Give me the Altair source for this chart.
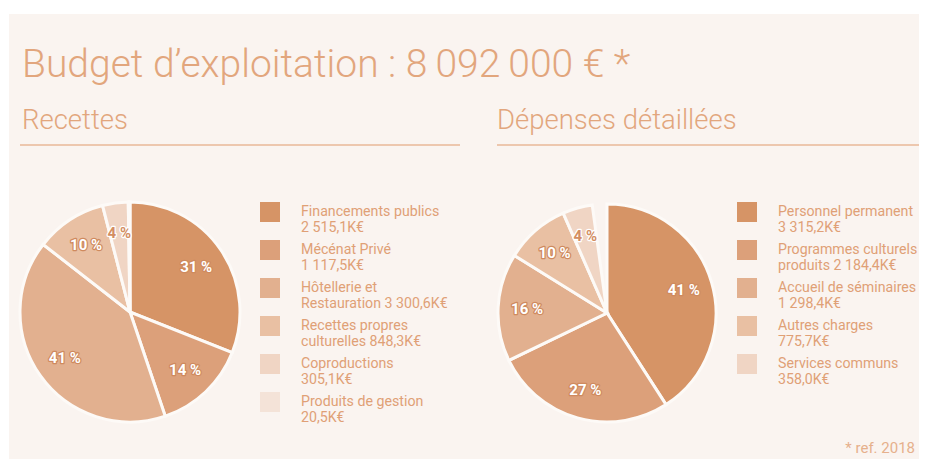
import altair as alt
import pandas as pd

TITLE = "Budget d’exploitation : 8\u2009092\u2009000 € *"
SECTIONS = ["Recettes", "Dépenses détaillées"]
FOOTNOTE = "* ref. 2018"

REC_CATS = ["Financements publics", "Mécénat Privé", "Hôtellerie et Restauration",
            "Recettes propres culturelles", "Coproductions", "Produits de gestion"]
REC_VALUES = [2515.1, 1117.5, 3300.6, 848.3, 305.1, 20.5]
REC_LEGEND = ["Financements publics|2 515,1K€", "Mécénat Privé|1 117,5K€",
              "Hôtellerie et|Restauration 3 300,6K€", "Recettes propres|culturelles 848,3K€",
              "Coproductions|305,1K€", "Produits de gestion|20,5K€"]
REC_PCT = ["31 %", "14 %", "41 %", "10 %", "4 %", ""]

DEP_CATS = ["Personnel permanent", "Programmes culturels produits", "Accueil de séminaires",
            "Autres charges", "Services communs"]
DEP_VALUES = [3315.2, 2184.4, 1298.4, 775.7, 358.0]
DEP_LEGEND = ["Personnel permanent|3 315,2K€", "Programmes culturels|produits 2 184,4K€",
              "Accueil de séminaires|1 298,4K€", "Autres charges|775,7K€",
              "Services communs|358,0K€"]
DEP_PCT = ["41 %", "27 %", "16 %", "10 %", "4 %"]

REC_COLORS = ["#D69466", "#DCA07A", "#E2B08F", "#E9C0A3", "#F0D5C4", "#F4E3D8"]
DEP_COLORS = ["#D69466", "#DCA07A", "#E2B08F", "#E9C0A3", "#F0D5C4"]

BG = "#FAF4F0"
TXT = "#E2A67D"
FONT = "Roboto"
DARK = "#CF8A5E"

rec_df = pd.DataFrame({"cat": REC_CATS, "value": REC_VALUES, "legend": REC_LEGEND,
                       "pct": REC_PCT, "order": list(range(len(REC_CATS)))})
dep_df = pd.DataFrame({"cat": DEP_CATS, "value": DEP_VALUES, "legend": DEP_LEGEND,
                       "pct": DEP_PCT, "order": list(range(len(DEP_CATS)))})


def legend(x, y):
    return alt.Legend(title=None, orient="none", legendX=x, legendY=y,
                      symbolType="square", symbolSize=400, symbolStrokeWidth=0,
                      labelExpr="split(datum.label, '|')", labelFont=FONT,
                      labelFontSize=14.2, labelColor="#E0A076", labelLimit=400,
                      rowPadding=4, labelOffset=21, padding=0, symbolOpacity=1)


def pie(df, cats_legend, colors, cx, cy, r, lx, ly):
    base = alt.Chart(df).encode(
        theta=alt.Theta("value:Q", stack=True),
        order=alt.Order("order:Q"),
    )
    arcs = base.mark_arc(radius=r, stroke="#FDFAF7", strokeWidth=3).encode(
        x=alt.value(cx), y=alt.value(cy),
        color=alt.Color("legend:N", sort=None,
                        scale=alt.Scale(domain=cats_legend, range=colors),
                        legend=legend(lx, ly)),
    )
    halo = base.mark_text(radius=80, font=FONT, fontWeight="bold", fontSize=15,
                          strokeWidth=2.5, strokeJoin="round",
                          align="center", baseline="middle").encode(
        x=alt.value(cx), y=alt.value(cy),
        text="pct:N",
        fill=alt.condition("datum.value < 500", alt.value("#FFFFFF"), alt.value(DARK)),
        stroke=alt.condition("datum.value < 500", alt.value("#FFFFFF"), alt.value(DARK)),
    )
    labels = base.mark_text(radius=80, font=FONT, fontWeight="bold", fontSize=15,
                            align="center", baseline="middle").encode(
        x=alt.value(cx), y=alt.value(cy),
        text="pct:N",
        fill=alt.condition("datum.value < 500", alt.value("#D38E62"), alt.value("#FFFFFF")),
    )
    return arcs, halo, labels


arc1, halo1, lab1 = pie(rec_df, REC_LEGEND, REC_COLORS, 121, 298, 110, 251, 188)
arc2, halo2, lab2 = pie(dep_df, DEP_LEGEND, DEP_COLORS, 598, 299, 109, 728, 188)

title = alt.Chart(pd.DataFrame({"t": [TITLE]})).mark_text(
    align="left", baseline="alphabetic", font=FONT, fontWeight=300, fontSize=39, color=TXT
).encode(x=alt.value(13), y=alt.value(63), text="t:N")

sec1 = alt.Chart(pd.DataFrame({"t": [SECTIONS[0]]})).mark_text(
    align="left", baseline="alphabetic", font=FONT, fontWeight=300, fontSize=27.5, color=TXT
).encode(x=alt.value(13), y=alt.value(115), text="t:N")

sec2 = alt.Chart(pd.DataFrame({"t": [SECTIONS[1]]})).mark_text(
    align="left", baseline="alphabetic", font=FONT, fontWeight=300, fontSize=27.5, color=TXT
).encode(x=alt.value(488), y=alt.value(115), text="t:N")

line_df = pd.DataFrame({"k": [0]})
rule1 = alt.Chart(line_df).mark_rule(color="#E8B898", strokeWidth=1.5).encode(
    x=alt.value(11), x2=alt.value(451), y=alt.value(131))
rule2 = alt.Chart(line_df).mark_rule(color="#E8B898", strokeWidth=1.5).encode(
    x=alt.value(488), x2=alt.value(920), y=alt.value(131))

foot = alt.Chart(pd.DataFrame({"t": [FOOTNOTE]})).mark_text(
    align="right", baseline="alphabetic", font=FONT, fontSize=15, color="#E6B08C"
).encode(x=alt.value(906), y=alt.value(439), text="t:N")

chart = alt.layer(
    arc1, halo1, lab1, arc2, halo2, lab2, title, sec1, sec2, rule1, rule2, foot
).resolve_scale(color="independent").properties(
    width=910, height=445,
    autosize=alt.AutoSizeParams(type="none"),
    padding={"left": 1, "top": 6, "right": 0, "bottom": 0},
    background="#FFFFFF",
).configure_view(fill=BG, stroke=None)

chart.save("out.html", embed_options={"renderer": "svg", "actions": False})
